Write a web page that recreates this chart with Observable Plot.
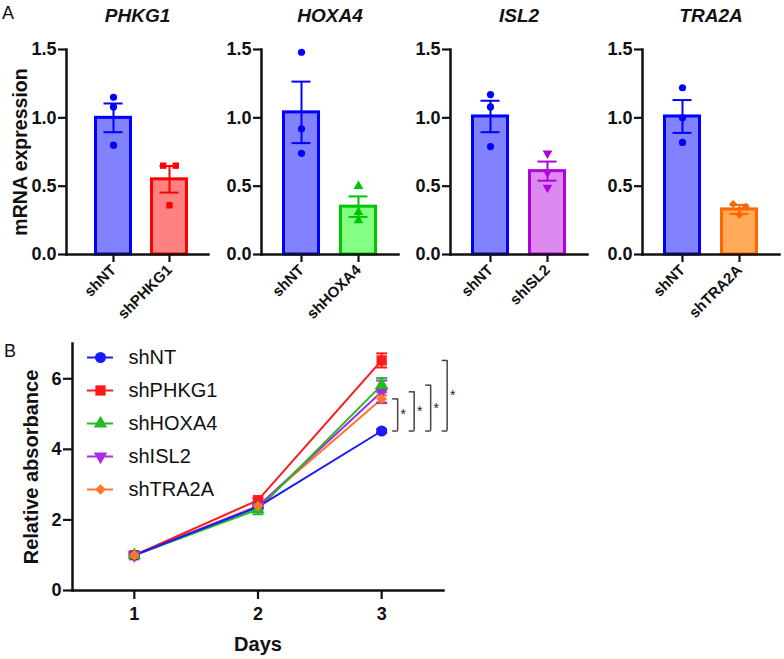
<!DOCTYPE html>
<html><head><meta charset="utf-8">
<script src="https://cdn.jsdelivr.net/npm/d3@7"></script>
<script src="https://cdn.jsdelivr.net/npm/@observablehq/plot@0.6"></script>
<style>
html,body{margin:0;padding:0;background:#fff;}
#chart{position:relative;width:784px;height:659px;overflow:hidden;font-family:"Liberation Sans",Arial,Helvetica,sans-serif;color:#111;}
#chart svg{position:absolute;}
.letter{position:absolute;font-size:18px;line-height:1;color:#111;}
</style></head><body>
<div id="chart"></div>
<script>
// ---------- Panel A data ----------
const genes = ["PHKG1", "HOXA4", "ISL2", "TRA2A"];
const ntMean = [1.00, 1.04, 1.01, 1.01];
const ntSem = [0.105, 0.225, 0.115, 0.12];
const ntPoints = [[1.15, 1.08, 0.80], [1.48, 0.92, 0.74], [1.17, 1.08, 0.79], [1.22, 1.00, 0.82]];
const kdMean = [0.55, 0.35, 0.61, 0.33];
const kdSem = [0.097, 0.075, 0.07, 0.033];
const kdPoints = [[0.65, 0.65, 0.36], [0.50, 0.31, 0.25], [0.74, 0.60, 0.49], [0.37, 0.35, 0.29]];
const yTicksA = [0, 0.5, 1.0, 1.5];

// ---------- Panel B data ----------
const series = ["shNT", "shPHKG1", "shHOXA4", "shISL2", "shTRA2A"];
const days = [1, 2, 3];
const absNT = [1.00, 2.37, 4.52];
const absPHKG1 = [1.00, 2.56, 6.52];
const absHOXA4 = [1.00, 2.30, 5.82];
const absISL2 = [1.00, 2.38, 5.63];
const absTRA2A = [1.00, 2.40, 5.43];
const errNT = [0.03, 0.05, 0.05];
const errPHKG1 = [0.03, 0.06, 0.20];
const errHOXA4 = [0.03, 0.14, 0.20];
const errISL2 = [0.03, 0.06, 0.32];
const errTRA2A = [0.03, 0.05, 0.10];
const yTicksB = [0, 2, 4, 6];
const sigGroups = ["shTRA2A", "shISL2", "shHOXA4", "shPHKG1"];
const sigDay = 3;
const sigLabel = "*";

// ---------- styles ----------
const FONT = '"Liberation Sans", Arial, Helvetica, sans-serif';
const invTriangle = {
  draw(ctx, size) {
    const s3 = Math.sqrt(3);
    const y = Math.sqrt(size / (s3 * 3));
    ctx.moveTo(0, 2 * y); ctx.lineTo(-s3 * y, -y); ctx.lineTo(s3 * y, -y); ctx.closePath();
  }
};
const capSym = { draw(ctx, size) { const w = Math.sqrt(size / Math.PI); ctx.moveTo(-w, 0); ctx.lineTo(w, 0); } };
const armSym = { draw(ctx, size) { const w = Math.sqrt(size / Math.PI); ctx.moveTo(-w, 0); ctx.lineTo(0, 0); } };
const diamondSym = d3.symbolDiamond2 || d3.symbolDiamond;
const symbolOf = { shNT: d3.symbolCircle, shPHKG1: d3.symbolSquare, shHOXA4: d3.symbolTriangle, shISL2: invTriangle, shTRA2A: diamondSym };
const fillA = { shNT: "#8282ff", shPHKG1: "#ff8282", shHOXA4: "#84ff84", shISL2: "#dc8aef", shTRA2A: "#ffaa58" };
const strokeA = { shNT: "#0000ff", shPHKG1: "#ff0000", shHOXA4: "#00c400", shISL2: "#b000dc", shTRA2A: "#ff6600" };
const lineColor = { shNT: "#1a1aff", shPHKG1: "#ff1a1a", shHOXA4: "#22bb22", shISL2: "#a92be8", shTRA2A: "#ff7726" };

const chart = document.getElementById("chart");
function place(svg, left, top) { svg.style.left = left + "px"; svg.style.top = top + "px"; chart.appendChild(svg); }
function letter(t, left, top) { const d = document.createElement("div"); d.className = "letter"; d.textContent = t; d.style.left = left + "px"; d.style.top = top + "px"; chart.appendChild(d); }

// horizontal spreading of colliding replicate points (GraphPad-like)
function spread(values, k) {
  const idx = values.map((v, i) => i).sort((a, b) => values[b] - values[a]);
  const off = new Array(values.length).fill(0);
  let cluster = [idx[0]];
  const flush = () => cluster.forEach((j, n) => off[j] = (n - (cluster.length - 1) / 2) * 12.5);
  for (let n = 1; n < idx.length; n++) {
    if ((values[idx[n - 1]] - values[idx[n]]) * k < 7.5) cluster.push(idx[n]);
    else { flush(); cluster = [idx[n]]; }
  }
  flush();
  return off;
}

// ---------- Panel A ----------
const axisXA = [66, 261, 450, 642];
const frameWA = [142, 137, 137, 137];
const insetLA = [7, 0, 0, 0];
const topA = 49, bottomA = 254, heightA = 334;
const kA = (bottomA - topA) / 1.5;

genes.forEach((gene, i) => {
  const kd = "sh" + gene;
  const bars = [
    { g: "shNT", mean: ntMean[i], sem: ntSem[i] },
    { g: kd, mean: kdMean[i], sem: kdSem[i] }
  ];
  const pts = [];
  [["shNT", ntPoints[i]], [kd, kdPoints[i]]].forEach(([g, vals]) => {
    const off = spread(vals, kA);
    vals.forEach((v, j) => pts.push({ g, v, off: off[j] }));
  });
  const offsets = Array.from(new Set(pts.map(d => d.off)));
  const marks = [
    Plot.barY(bars, { x: "g", y: "mean", fill: d => fillA[d.g], stroke: d => strokeA[d.g], strokeWidth: 3, insetLeft: 1.5, insetRight: 1.5 }),
    Plot.ruleX(bars, { x: "g", y1: d => d.mean - d.sem, y2: d => d.mean + d.sem, stroke: d => strokeA[d.g], strokeWidth: 2 }),
    Plot.tickY(bars, { x: "g", y: d => d.mean + d.sem, stroke: d => strokeA[d.g], strokeWidth: 2, inset: 9.5 }),
    Plot.tickY(bars, { x: "g", y: d => d.mean - d.sem, stroke: d => strokeA[d.g], strokeWidth: 2, inset: 9.5 }),
    ...offsets.map(o => Plot.dot(pts.filter(d => d.off === o), { x: "g", y: "v", dx: o, r: 3.6, symbol: d => symbolOf[d.g], fill: d => strokeA[d.g], stroke: "none" })),
    Plot.frame({ anchor: "left", strokeWidth: 2.5 }),
    Plot.frame({ anchor: "bottom", strokeWidth: 2.5 }),
    Plot.axisY({ ticks: yTicksA, tickFormat: d3.format(".1f"), tickSize: 8, tickPadding: 2, fontSize: 18, fontWeight: "bold", strokeWidth: 2.2, label: null }),
    Plot.axisX({ tickSize: 8, tickPadding: 5, tickRotate: -45, fontSize: 15, fontWeight: "bold", strokeWidth: 2.2, label: null }),
    Plot.text([gene], { frameAnchor: "top", dy: 15 - topA, lineAnchor: "middle", fontSize: 19, fontWeight: "bold", fontStyle: "italic" })
  ];
  if (i === 0) {
    marks.push(Plot.text(["mRNA expression"], { frameAnchor: "left", rotate: -90, textAnchor: "middle", lineAnchor: "middle", dx: -46, fontSize: 19.5, fontWeight: "bold" }));
  }
  const svg = Plot.plot({
    width: 66 + frameWA[i] + 4,
    height: heightA,
    marginLeft: 66, marginRight: 4, marginTop: topA, marginBottom: heightA - bottomA,
    x: { domain: ["shNT", kd], paddingInner: 0.33, paddingOuter: 0.35, insetLeft: insetLA[i] },
    y: { domain: [0, 1.5] },
    style: { background: "transparent", overflow: "visible", fontFamily: FONT, color: "#111" },
    marks
  });
  place(svg, axisXA[i] - 66, 0);
});
letter("A", 2, 4);

// ---------- Panel B ----------
const absOf = { shNT: absNT, shPHKG1: absPHKG1, shHOXA4: absHOXA4, shISL2: absISL2, shTRA2A: absTRA2A };
const errOf = { shNT: errNT, shPHKG1: errPHKG1, shHOXA4: errHOXA4, shISL2: errISL2, shTRA2A: errTRA2A };
const drawOrder = series.slice().reverse();
const rows = drawOrder.flatMap(s => days.map((d, j) => ({ s, day: d, v: absOf[s][j], e: errOf[s][j] })));
const markerR = { shNT: 5.5, shPHKG1: 5.8, shHOXA4: 5.0, shISL2: 5.0, shTRA2A: 4.8 };

const brackets = sigGroups.map((g, i) => ({ g, i, top: absOf[g][2], bot: absNT[2] }));
const bracketMarks = brackets.flatMap(b => [
  Plot.ruleX([b], { x: () => sigDay, y1: "bot", y2: "top", dx: 16 + 16.5 * b.i, stroke: "#444", strokeWidth: 1.5 }),
  Plot.dot([b.top, b.bot], { x: () => sigDay, y: d => d, dx: 16 + 16.5 * b.i, symbol: armSym, r: 5.5, stroke: "#444", strokeWidth: 1.5, fill: "none" }),
  Plot.text([b], { x: () => sigDay, y: d => (d.top + d.bot) / 2, text: () => sigLabel, dx: 21.5 + 16.5 * b.i, fontSize: 14, fill: "#222" })
]);

const svgB = Plot.plot({
  width: 470, height: 329,
  marginLeft: 72, marginRight: 27, marginTop: 13, marginBottom: 69,
  x: { domain: [0.5, 3.5] },
  y: { domain: [0, 7] },
  r: { type: "identity" },
  style: { background: "transparent", overflow: "visible", fontFamily: FONT, color: "#111" },
  marks: [
    Plot.line(rows, { x: "day", y: "v", z: "s", stroke: d => lineColor[d.s], strokeWidth: 2 }),
    Plot.ruleX(rows, { x: "day", y1: d => d.v - d.e, y2: d => d.v + d.e, stroke: d => lineColor[d.s], strokeWidth: 2 }),
    Plot.dot(rows, { x: "day", y: d => d.v + d.e, symbol: capSym, r: 5.5, stroke: d => lineColor[d.s], strokeWidth: 2, fill: "none" }),
    Plot.dot(rows, { x: "day", y: d => d.v - d.e, symbol: capSym, r: 5.5, stroke: d => lineColor[d.s], strokeWidth: 2, fill: "none" }),
    Plot.dot(rows, { x: "day", y: "v", r: d => markerR[d.s], symbol: d => symbolOf[d.s], fill: d => lineColor[d.s], stroke: "none" }),
    ...bracketMarks,
    Plot.frame({ anchor: "left", strokeWidth: 2.5 }),
    Plot.frame({ anchor: "bottom", strokeWidth: 2.5 }),
    Plot.axisY({ ticks: yTicksB, tickFormat: d3.format("d"), tickSize: 9, tickPadding: 2, fontSize: 18, fontWeight: "bold", strokeWidth: 2.2, label: null }),
    Plot.axisX({ ticks: days, tickFormat: d3.format("d"), tickSize: 9, tickPadding: 8, fontSize: 18, fontWeight: "bold", strokeWidth: 2.2, label: null }),
    Plot.text(["Days"], { frameAnchor: "bottom", dy: 54, lineAnchor: "middle", fontSize: 20, fontWeight: "bold" }),
    Plot.text(["Relative absorbance"], { frameAnchor: "left", rotate: -90, textAnchor: "middle", lineAnchor: "middle", dx: -41, fontSize: 20, fontWeight: "bold" })
  ]
});
place(svgB, 0, 330);
letter("B", 4, 342);

// legend
const svgL = Plot.plot({
  width: 160, height: 166,
  marginLeft: 7, marginRight: 127, marginTop: 16, marginBottom: 16,
  x: { domain: [0, 1], axis: null },
  y: { type: "point", domain: series, padding: 0, axis: null },
  r: { type: "identity" },
  style: { background: "transparent", overflow: "visible", fontFamily: FONT, color: "#111" },
  marks: [
    Plot.ruleY(series, { y: d => d, x1: () => 0, x2: () => 1, stroke: d => lineColor[d], strokeWidth: 2 }),
    Plot.dot(series, { x: () => 0.5, y: d => d, r: d => markerR[d], symbol: d => symbolOf[d], fill: d => lineColor[d], stroke: "none" }),
    Plot.text(series, { x: () => 1, y: d => d, dx: 15, textAnchor: "start", fontSize: 20, fill: "#111" })
  ]
});
place(svgL, 80, 340);
</script>
</body></html>
